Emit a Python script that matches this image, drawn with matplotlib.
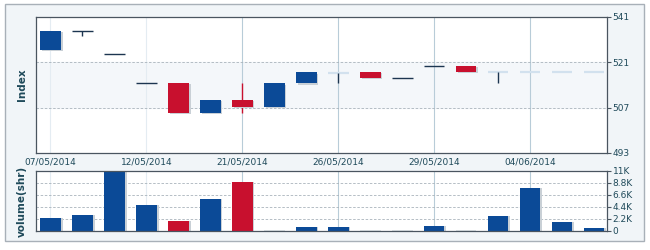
import matplotlib
matplotlib.use("Agg")
import matplotlib.pyplot as plt
from matplotlib.patches import Rectangle
import numpy as np

# ---- data ----
dates = ["07/05/2014", "12/05/2014", "21/05/2014", "26/05/2014", "29/05/2014", "04/06/2014"]
date_slots = [0, 3, 6, 9, 12, 15]
opens  = [530.7, 530.7, 523.5, 514.5, 505.4, 509.4, 507.3, 514.5, 517.9, 517.8, 516.2, 516.2, 519.9, 518.1, 517.9, 517.9, 517.9, 517.9]
closes = [524.8, 530.7, 523.5, 514.5, 514.7, 505.4, 509.4, 507.3, 514.5, 517.8, 518.1, 516.2, 519.9, 519.9, 517.9, 517.9, 517.9, 517.9]
highs  = [530.7, 530.7, 523.5, 514.5, 514.7, 509.4, 514.5, 514.5, 517.9, 517.8, 518.1, 516.2, 519.9, 519.9, 517.9, 517.9, 517.9, 517.9]
lows   = [524.8, 529.1, 523.5, 514.5, 505.4, 505.4, 505.4, 507.3, 514.5, 514.7, 516.2, 516.2, 519.9, 518.1, 514.5, 517.9, 517.9, 517.9]
session = ["trade", "trade", "trade", "trade", "trade", "trade", "trade", "trade", "trade", "quote",
           "trade", "trade", "trade", "trade", "quote", "quote", "quote", "quote"]
volumes = [2300, 2900, 11000, 4750, 1800, 5850, 8900, 0, 740, 700, 0, 0, 870, 0, 2700, 7900, 1600, 500]

price_ticks = [493, 507, 521, 535]
price_tick_labels = ["493", "507", "521", "541"]
vol_ticks = [0, 2200, 4400, 6600, 8800, 11000]
vol_tick_labels = ["0", "2.2K", "4.4K", "6.6K", "8.8K", "11K"]

# ---- style ----
BLUE = "#0b4a97"
RED = "#c8102e"
NAVY = "#1c3550"
LIGHT = "#d2e1ee"
TEXT = "#1f4a5a"
GRID_V = "#b8ccd8"
GRID_H = "#a9b3bb"

fig = plt.figure(figsize=(6.5, 2.5), dpi=100)
fig.patch.set_facecolor("white")

# outer panel
panel = Rectangle((5/650, 1 - 241/250), 639/650, 237/250, transform=fig.transFigure,
                  facecolor="#f1f5f8", edgecolor="#a8b0b8", linewidth=1.0, zorder=-5)
fig.patches.append(panel)

ax = fig.add_axes([36/650, 1 - 153/250, 571/650, 136/250])
axv = fig.add_axes([36/650, 1 - 231/250, 571/650, 60/250])
ax.set_zorder(2)
axv.set_zorder(2)

x = np.arange(len(opens))
w = 0.64
xmin, xmax = -0.45, 17.4

for a in (ax, axv):
    a.set_facecolor("white")
    a.set_xlim(xmin, xmax)
    for s in a.spines.values():
        s.set_color("#4a5560")
        s.set_linewidth(0.9)
    a.yaxis.tick_right()
    a.tick_params(axis="y", length=3, width=0.8, colors="#4a5560", labelcolor=TEXT,
                  labelsize=6.5, pad=1)
    a.tick_params(axis="x", length=0, labelsize=6.5, labelcolor=TEXT)
    for i, sl in enumerate(date_slots):
        a.axvline(sl, color=GRID_V if sl >= 6 else "#e4ecf2", lw=0.8, zorder=0.5)

# ---- price panel ----
ax.set_ylim(price_ticks[0], price_ticks[-1])
ax.set_yticks(price_ticks)
ax.set_yticklabels(price_tick_labels)
ax.axhspan(price_ticks[1], price_ticks[2], color="#f4f7fa", zorder=0.1)
for t in price_ticks[1:3]:
    ax.axhline(t, color=GRID_H, lw=0.6, ls=(0, (3, 2)), zorder=0.6)

for i in x:
    o, c, h, l = opens[i], closes[i], highs[i], lows[i]
    if session[i] == "quote":
        ax.hlines(c, i - w/2, i + w/2, color=LIGHT, lw=1.6, zorder=2)
        if l < c or h > c:
            ax.vlines(i, l, h, color=NAVY, lw=1.0, zorder=3)
        continue
    if c > o:
        col = RED
    elif c < o:
        col = BLUE
    else:
        col = NAVY
    ax.vlines(i, l, h, color=col, lw=1.0, zorder=2)
    if c == o:
        ax.hlines(c, i - w/2, i + w/2, color=col, lw=1.0, zorder=3)
    else:
        lo, hi = min(o, c), max(o, c)
        ax.add_patch(Rectangle((i - w/2 + 0.06, lo - 0.35), w, hi - lo, facecolor="#c9d0d6",
                               edgecolor="none", zorder=2.5))
        ax.add_patch(Rectangle((i - w/2, lo), w, hi - lo, facecolor=col, edgecolor="none", zorder=3))

ax.set_xticks(date_slots)
ax.set_xticklabels(dates)
ax.tick_params(axis="x", pad=3)
ax.set_ylabel("Index", fontsize=7.5, fontweight="bold", color=TEXT)

# ---- volume panel ----
axv.set_ylim(vol_ticks[0], vol_ticks[-1])
axv.set_yticks(vol_ticks)
axv.set_yticklabels(vol_tick_labels)
for t in vol_ticks[1:-1]:
    axv.axhline(t, color=GRID_H, lw=0.6, ls=(0, (3, 2)), zorder=0.6)
axv.set_xticks([])
min_h = vol_ticks[-1] * 0.012
for i in x:
    v = volumes[i]
    if v == 0:
        axv.bar(i, min_h, width=w, color="#dfe4e8", zorder=2)
        continue
    col = RED if closes[i] > opens[i] and session[i] == "trade" else BLUE
    axv.bar(i + 0.06, v, width=w, color="#c9d0d6", zorder=1.5)
    axv.bar(i, v, width=w, color=col, zorder=2)
axv.set_ylabel("volume(shr)", fontsize=7.5, fontweight="bold", color=TEXT)

for a in (ax, axv):
    a.yaxis.set_label_coords(-0.016, 0.5)

fig.savefig("out.png", dpi=100, facecolor=fig.get_facecolor())
